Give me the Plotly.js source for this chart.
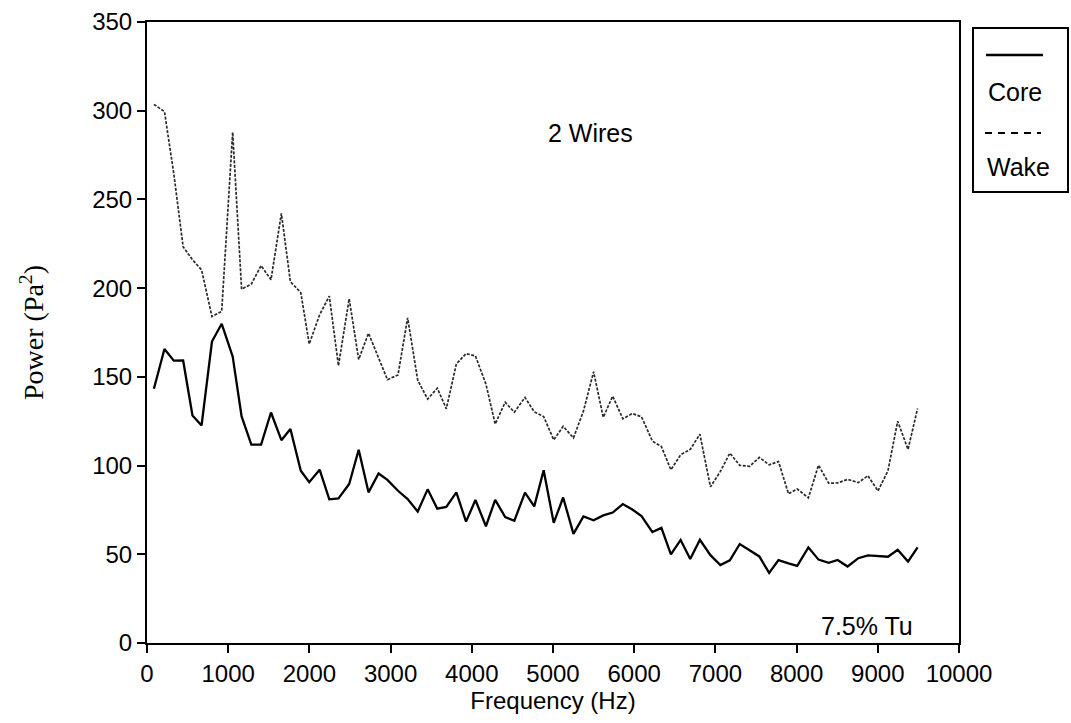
<!DOCTYPE html>
<html>
<head>
<meta charset="utf-8">
<script src="https://cdn.plot.ly/plotly-3.0.1.min.js"></script>
<style>
  html, body { margin: 0; padding: 0; background: #ffffff; }
  #chart { width: 1071px; height: 723px; }
</style>
</head>
<body>
<div id="chart"></div>
<script>
// ---- Data ----
const frequency = [85, 215, 330, 445, 560, 672, 800, 920, 1055, 1165,
  1285, 1405, 1527, 1655, 1766, 1894, 1998, 2126, 2245, 2358,
  2490, 2607, 2728, 2852, 2961, 3091, 3210, 3334, 3456, 3575,
  3686, 3810, 3929, 4045, 4174, 4288, 4411, 4524, 4655, 4769,
  4885, 5009, 5125, 5252, 5375, 5500, 5619, 5735, 5860, 5977,
  6090, 6224, 6335, 6452, 6572, 6690, 6809, 6939, 7061, 7178,
  7300, 7423, 7541, 7662, 7777, 7900, 8008, 8145, 8270, 8395,
  8505, 8628, 8760, 8879, 9003, 9125, 9245, 9372, 9490];

const core = [143.3, 165.7, 159.1, 159.2, 128.2, 122.6, 169.9, 179.9, 161.5, 127.7,
  111.8, 111.8, 129.9, 114.3, 120.6, 97.1, 90.6, 97.7, 81.0, 81.5,
  89.6, 108.9, 84.9, 95.5, 91.9, 85.8, 81.1, 74.1, 86.6, 75.7,
  76.7, 84.9, 68.4, 80.6, 65.8, 80.7, 71.0, 68.9, 84.8, 77.0,
  97.4, 67.7, 82.0, 61.5, 71.3, 69.2, 71.9, 73.5, 78.3, 75.2,
  71.5, 62.5, 64.9, 49.9, 58.1, 47.4, 58.2, 49.5, 43.9, 46.6,
  55.8, 52.1, 48.8, 39.5, 46.7, 44.9, 43.5, 53.9, 47.0, 45.2,
  46.8, 43.1, 47.8, 49.4, 49.1, 48.6, 52.5, 45.9, 53.9];

const wake = [303.6, 299.5, 264.5, 223.3, 216.0, 210.3, 184.0, 186.9, 287.9, 199.4,
  202.3, 212.7, 204.7, 242.1, 203.6, 197.5, 168.5, 185.0, 195.5, 156.3,
  194.0, 159.8, 174.6, 161.0, 148.4, 151.1, 183.3, 148.1, 137.5, 143.6,
  132.0, 157.3, 163.1, 161.8, 145.9, 123.4, 135.7, 130.1, 138.4, 130.3,
  127.6, 114.5, 122.1, 115.6, 130.7, 152.9, 127.2, 139.1, 126.4, 129.3,
  127.5, 113.8, 110.7, 97.6, 106.1, 109.1, 117.7, 88.0, 96.7, 107.0,
  100.1, 99.6, 104.6, 100.4, 102.3, 84.1, 86.8, 81.8, 100.2, 90.1,
  90.2, 92.2, 90.4, 94.3, 85.7, 97.1, 125.0, 109.1, 132.2];

const xTickVals = [0, 1000, 2000, 3000, 4000, 5000, 6000, 7000, 8000, 9000, 10000];
const yTickVals = [0, 50, 100, 150, 200, 250, 300, 350];

const seriesNames = ['Core', 'Wake'];
const annotationTexts = ['2 Wires', '7.5% Tu'];

// ---- Layout geometry ----
const W = 1071, H = 723;
const M = { l: 147, r: 112, t: 22, b: 80 };
const PW = W - M.l - M.r, PH = H - M.t - M.b;
const px = x => (x - M.l) / PW;          // pixel x -> paper
const py = y => (H - M.b - y) / PH;      // pixel y -> paper

const sans = 'Liberation Sans, Arial, Helvetica, sans-serif';
const serif = 'Liberation Serif, Times New Roman, serif';

const traces = [
  { x: frequency, y: core, name: seriesNames[0], type: 'scatter', mode: 'lines',
    line: { color: '#000000', width: 2.3 }, showlegend: false },
  { x: frequency, y: wake, name: seriesNames[1], type: 'scatter', mode: 'lines',
    line: { color: '#2a2a2a', width: 1.7, dash: '3px,1.5px' }, showlegend: false }
];

const layout = {
  width: W, height: H,
  margin: M,
  paper_bgcolor: '#ffffff', plot_bgcolor: '#ffffff',
  showlegend: false,
  font: { family: sans, color: '#000000', size: 24 },
  xaxis: {
    range: [0, 10000], tickvals: xTickVals, ticktext: xTickVals.map(String),
    ticks: 'outside', ticklen: 8, tickwidth: 2, tickcolor: '#000',
    showline: true, linewidth: 2, linecolor: '#000', mirror: true,
    showgrid: false, zeroline: false,
    tickfont: { family: sans, size: 24 },
    title: { text: 'Frequency (Hz)', font: { family: sans, size: 24 }, standoff: 4 }
  },
  yaxis: {
    range: [0, 350], tickvals: yTickVals, ticktext: yTickVals.map(String),
    ticks: 'outside', ticklen: 8, tickwidth: 2, tickcolor: '#000',
    showline: true, linewidth: 2, linecolor: '#000', mirror: true,
    showgrid: false, zeroline: false,
    tickfont: { family: sans, size: 24 },
    title: { text: 'Power (Pa<sup>2</sup>)', font: { family: serif, size: 28 }, standoff: 40 }
  },
  shapes: [
    // legend box
    { type: 'rect', xref: 'paper', yref: 'paper', x0: px(973), x1: px(1068), y0: py(192), y1: py(28),
      line: { color: '#000', width: 2 }, fillcolor: 'rgba(0,0,0,0)' },
    // solid sample
    { type: 'line', xref: 'paper', yref: 'paper', x0: px(986), x1: px(1043), y0: py(55), y1: py(55),
      line: { color: '#000', width: 2.3 } },
    // dashed sample
    { type: 'line', xref: 'paper', yref: 'paper', x0: px(985), x1: px(1041), y0: py(133), y1: py(133),
      line: { color: '#000', width: 1.8, dash: '7px,6px' } }
  ],
  annotations: [
    { xref: 'paper', yref: 'paper', x: px(1015), y: py(92), text: seriesNames[0], showarrow: false,
      font: { family: sans, size: 25 }, xanchor: 'center', yanchor: 'middle' },
    { xref: 'paper', yref: 'paper', x: px(1018), y: py(167), text: seriesNames[1], showarrow: false,
      font: { family: sans, size: 25 }, xanchor: 'center', yanchor: 'middle' },
    { xref: 'paper', yref: 'paper', x: px(590), y: py(133), text: annotationTexts[0], showarrow: false,
      font: { family: sans, size: 25 }, xanchor: 'center', yanchor: 'middle' },
    { xref: 'paper', yref: 'paper', x: px(867), y: py(626), text: annotationTexts[1], showarrow: false,
      font: { family: sans, size: 25 }, xanchor: 'center', yanchor: 'middle' }
  ]
};

Plotly.newPlot('chart', traces, layout, { staticPlot: true, displayModeBar: false });
</script>
</body>
</html>
